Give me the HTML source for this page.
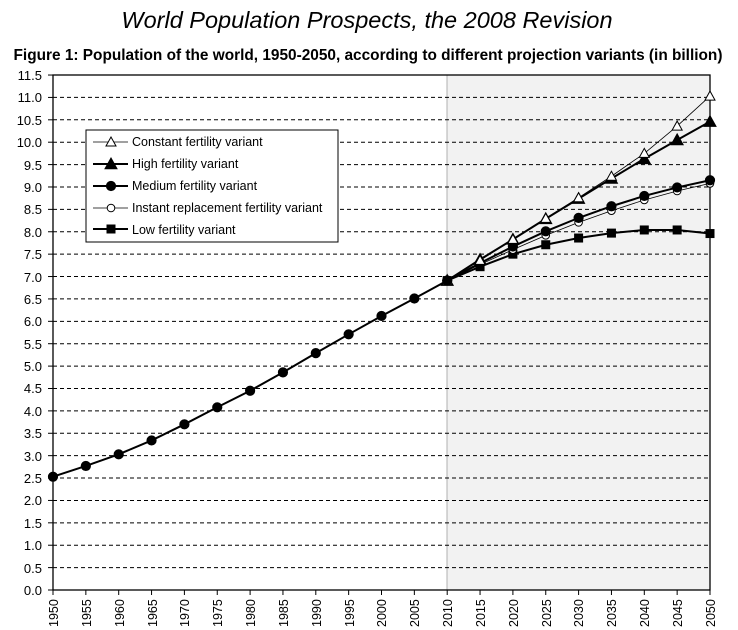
<!DOCTYPE html>
<html><head><meta charset="utf-8"><style>
html,body{margin:0;padding:0;background:#fff;}
svg{display:block;font-family:"Liberation Sans",Arial,sans-serif;}
</style></head><body>
<svg id="s" width="738" height="630" viewBox="0 0 738 630" xmlns="http://www.w3.org/2000/svg">
<rect width="738" height="630" fill="#fff"/>
<text x="367" y="28" font-size="23.5" font-style="italic" text-anchor="middle">World Population Prospects, the 2008 Revision</text>
<text x="368" y="60" font-size="15.4" font-weight="bold" text-anchor="middle">Figure 1: Population of the world, 1950-2050, according to different projection variants (in billion)</text>
<rect x="447" y="75" width="263" height="515" fill="#f2f2f2"/>
<line x1="447" y1="75" x2="447" y2="590" stroke="#b0b0b0" stroke-width="1"/>
<g id="grid"></g>
<rect x="53" y="75" width="657" height="515" fill="none" stroke="#000" stroke-width="1.3"/>
<g font-size="13" text-anchor="end" fill="#000">
<text x="42" y="80">11.5</text><text x="42" y="102">11.0</text><text x="42" y="125">10.5</text><text x="42" y="147">10.0</text>
<text x="42" y="170">9.5</text><text x="42" y="192">9.0</text><text x="42" y="214">8.5</text><text x="42" y="237">8.0</text>
<text x="42" y="259">7.5</text><text x="42" y="282">7.0</text><text x="42" y="304">6.5</text><text x="42" y="326">6.0</text>
<text x="42" y="349">5.5</text><text x="42" y="371">5.0</text><text x="42" y="393">4.5</text><text x="42" y="416">4.0</text>
<text x="42" y="438">3.5</text><text x="42" y="461">3.0</text><text x="42" y="483">2.5</text><text x="42" y="505">2.0</text>
<text x="42" y="528">1.5</text><text x="42" y="550">1.0</text><text x="42" y="573">0.5</text><text x="42" y="595">0.0</text>
</g>
<g font-size="12.5" id="xl">
<text transform="translate(58,627) rotate(-90)">1950</text>
<text transform="translate(91,627) rotate(-90)">1955</text>
<text transform="translate(124,627) rotate(-90)">1960</text>
<text transform="translate(157,627) rotate(-90)">1965</text>
<text transform="translate(189,627) rotate(-90)">1970</text>
<text transform="translate(222,627) rotate(-90)">1975</text>
<text transform="translate(255,627) rotate(-90)">1980</text>
<text transform="translate(288,627) rotate(-90)">1985</text>
<text transform="translate(321,627) rotate(-90)">1990</text>
<text transform="translate(354,627) rotate(-90)">1995</text>
<text transform="translate(386,627) rotate(-90)">2000</text>
<text transform="translate(419,627) rotate(-90)">2005</text>
<text transform="translate(452,627) rotate(-90)">2010</text>
<text transform="translate(485,627) rotate(-90)">2015</text>
<text transform="translate(518,627) rotate(-90)">2020</text>
<text transform="translate(551,627) rotate(-90)">2025</text>
<text transform="translate(583,627) rotate(-90)">2030</text>
<text transform="translate(616,627) rotate(-90)">2035</text>
<text transform="translate(649,627) rotate(-90)">2040</text>
<text transform="translate(682,627) rotate(-90)">2045</text>
<text transform="translate(715,627) rotate(-90)">2050</text>
</g>
<g id="series"></g>
<rect x="86" y="130" width="252" height="112" fill="#fff" stroke="#000" stroke-width="1"/>
<g id="leg"></g>
<g font-size="12.5">
<text x="132" y="146">Constant fertility variant</text>
<text x="132" y="168">High fertility variant</text>
<text x="132" y="190">Medium fertility variant</text>
<text x="132" y="212">Instant replacement fertility variant</text>
<text x="132" y="234">Low fertility variant</text>
</g>
</svg>
<script>
var NS="http://www.w3.org/2000/svg";
function el(p,t,a){var e=document.createElementNS(NS,t);for(var k in a)e.setAttribute(k,a[k]);document.getElementById(p).appendChild(e);return e;}
function X(y){return 53+(y-1950)*6.57;}
function Y(v){return 590-v*44.78;}
for(var i=1;i<=22;i++){var y=Y(i*0.5);el("grid","line",{x1:53,x2:710,y1:y,y2:y,stroke:"#000","stroke-width":1,"stroke-dasharray":"4,3"});}
for(var i=0;i<=23;i++){var y=Y(i*0.5);el("grid","line",{x1:48,x2:53,y1:y,y2:y,stroke:"#000"});}
for(var i=0;i<=20;i++){var x=X(1950+i*5);el("grid","line",{x1:x,x2:x,y1:590,y2:595,stroke:"#000"});}
var hist=[2.53,2.77,3.03,3.34,3.70,4.08,4.45,4.86,5.29,5.71,6.12,6.51,6.91];
var S={
con:{d:[7.36,7.83,8.30,8.76,9.24,9.75,10.36,11.03],m:"tri",f:"#fff",w:0.8},
hi:{d:[7.38,7.83,8.29,8.74,9.19,9.63,10.05,10.46],m:"tri",f:"#000",w:2},
med:{d:[7.30,7.67,8.01,8.31,8.57,8.80,8.99,9.15],m:"cir",f:"#000",w:2},
ins:{d:[7.27,7.60,7.92,8.21,8.47,8.71,8.91,9.08],m:"cir",f:"#fff",w:0.8},
lo:{d:[7.22,7.50,7.71,7.86,7.97,8.04,8.04,7.96],m:"sq",f:"#000",w:2}};
function mk(g,t,x,y,f,big){
 if(t=="tri"){var h=big?6:5;el(g,"polygon",{points:(x-h)+","+(y+h*0.8)+" "+(x+h)+","+(y+h*0.8)+" "+x+","+(y-h),fill:f,stroke:"#000","stroke-width":1});}
 else if(t=="cir"){el(g,"circle",{cx:x,cy:y,r:big?4.6:3.8,fill:f,stroke:"#000","stroke-width":1});}
 else el(g,"rect",{x:x-4.5,y:y-4.5,width:9,height:9,fill:f});
}
var order=["lo","ins","med","hi","con"];
order.forEach(function(k){var s=S[k];var pts=[[2010,6.91]];s.d.forEach(function(v,i){pts.push([2015+i*5,v]);});
 el("series","polyline",{points:pts.map(function(p){return X(p[0])+","+Y(p[1]);}).join(" "),fill:"none",stroke:"#000","stroke-width":s.w});
 pts.forEach(function(p){mk("series",s.m,X(p[0]),Y(p[1]),s.f,k!="ins"&&k!="con");});});
el("series","polyline",{points:hist.map(function(v,i){return X(1950+i*5)+","+Y(v);}).join(" "),fill:"none",stroke:"#000","stroke-width":2});
hist.forEach(function(v,i){mk("series","cir",X(1950+i*5),Y(v),"#000",true);});
var L=[["con",142],["hi",164],["med",186],["ins",208],["lo",229]];
L.forEach(function(l){var s=S[l[0]];el("leg","line",{x1:93,x2:128,y1:l[1],y2:l[1],stroke:"#000","stroke-width":s.w});mk("leg",s.m,111,l[1],s.f,l[0]!="ins"&&l[0]!="con");});
</script>
</body></html>
